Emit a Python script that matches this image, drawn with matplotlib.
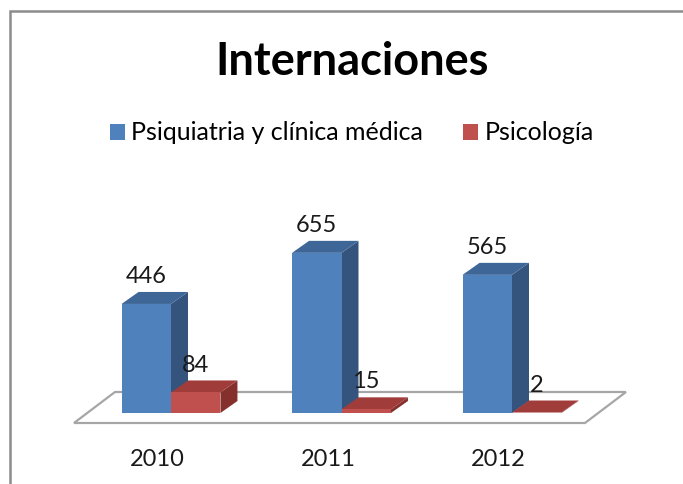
import matplotlib
matplotlib.use('Agg')
import matplotlib.pyplot as plt
from matplotlib.patches import Polygon, Rectangle, Patch

plt.rcParams['font.family'] = ['Lato', 'DejaVu Sans']

# data
years = ['2010', '2011', '2012']
psiquiatria = [446, 655, 565]
psicologia = [84, 15, 2]
series_names = ['Psiquiatria y clínica médica', 'Psicología']
title = 'Internaciones'

# colours (front, side, top)
blue = ('#4F81BD', '#34547E', '#3E6696')
red = ('#C0504D', '#86302E', '#A03C3A')

W, H = 683, 484
fig = plt.figure(figsize=(W / 100, H / 100), dpi=100)
ax = fig.add_axes([0, 0, 1, 1])
ax.axis('off')

# axis scaling: one category = 170.5 px, one unit = 0.2445 px, baseline at y=413 px
px_x = 170.5
px_y = 0.2445
ax.set_xlim(-171 / px_x, (W - 171) / px_x)
ax.set_ylim((413 - H) / px_y, 413 / px_y)

bar_w = 0.29
ddx, ddy = 17 / px_x, 12 / px_y       # bar depth
fdx, fdy = 41 / px_x, 31 / px_y       # floor depth

# floor
n = len(years)
f0 = -10 / px_y
fl, fr = -0.569, n - 1 + 0.428
floor = Polygon([(fl, f0), (fr, f0), (fr + fdx, f0 + fdy), (fl + fdx, f0 + fdy)],
                closed=True, facecolor='white', edgecolor='#A6A6A6', lw=1.6, zorder=1)
ax.add_patch(floor)


def bar3d(x0, h, cols, z):
    x1 = x0 + bar_w
    ax.bar(x0, h, width=bar_w, align='edge', color=cols[0], zorder=z + 0.2, lw=0)
    side = Polygon([(x1, 0), (x1 + ddx, ddy), (x1 + ddx, h + ddy), (x1, h)],
                   closed=True, facecolor=cols[1], lw=0, zorder=z)
    top = Polygon([(x0, h), (x1, h), (x1 + ddx, h + ddy), (x0 + ddx, h + ddy)],
                  closed=True, facecolor=cols[2], lw=0, zorder=z + 0.1)
    ax.add_patch(side)
    ax.add_patch(top)
    ax.text(x0 + bar_w / 2, h + 112, str(h), ha='center', va='center',
            fontsize=17, color='#1a1a1a', zorder=20)


z = 2
for i in range(n):
    bar3d(i - bar_w, psiquiatria[i], blue, z)
    z += 1
    bar3d(i, psicologia[i], red, z)
    z += 1
    ax.text(i - 0.08, -190, years[i], ha='center', va='center',
            fontsize=17, color='#1a1a1a')

fig.text(352 / W, 1 - 75 / H, title, ha='center', va='baseline',
         fontsize=32.5, fontweight='bold', color='black')

handles = [Patch(facecolor=blue[0]), Patch(facecolor=red[0])]
fig.legend(handles, series_names, loc='center', bbox_to_anchor=(352 / W, 1 - 133 / H),
           ncol=2, frameon=False, fontsize=18, handlelength=0.6, handleheight=0.6,
           handletextpad=0.25, columnspacing=1.6)

# chart border (top and left visible)
fig.patches.append(Rectangle((9.5 / W, -0.1), 1.2, 1.1 - 11 / H, transform=fig.transFigure,
                             fill=False, edgecolor='#8C8C8C', lw=1.8))

fig.savefig('out.png', dpi=100)
